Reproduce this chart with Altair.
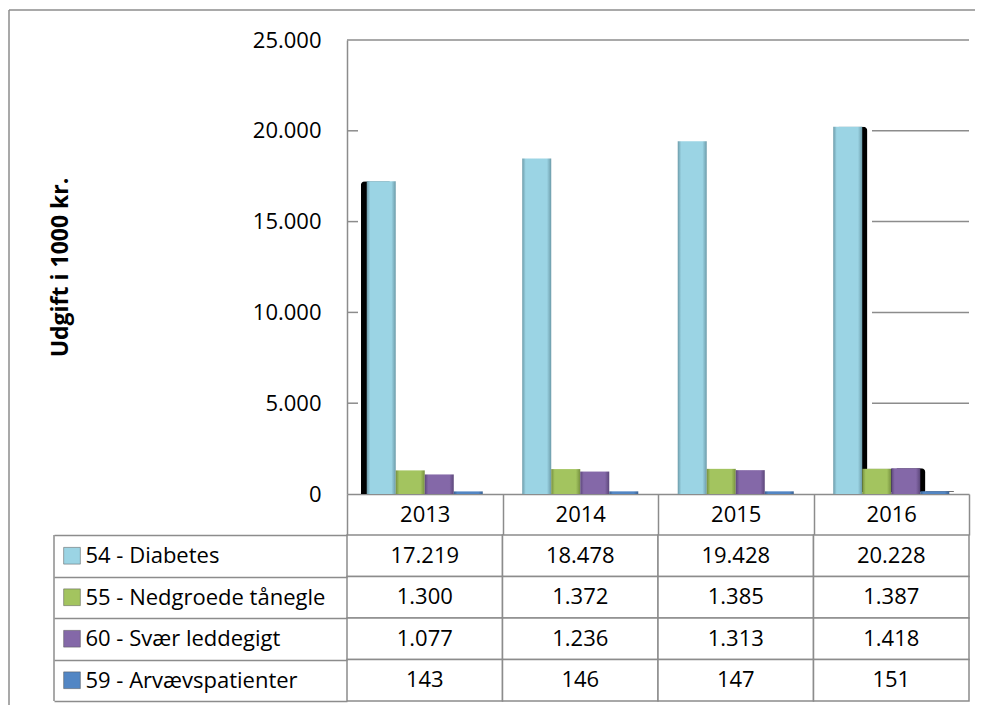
import altair as alt
import pandas as pd

# ---------------- data ----------------
YEARS = ["2013", "2014", "2015", "2016"]
SERIES = [
    "54 - Diabetes",
    "55 - Nedgroede tånegle",
    "60 - Svær leddegigt",
    "59 - Arvævspatienter",
]
DIABETES = [17219, 18478, 19428, 20228]
TANEGLE = [1300, 1372, 1385, 1387]
LEDDEGIGT = [1077, 1236, 1313, 1418]
ARVAEV = [143, 146, 147, 151]
Y_TICKS = [0, 5000, 10000, 15000, 20000, 25000]
Y_TITLE = "Udgift i 1000 kr."

# ---------------- styles ----------------
FILL_MID = ["#9BD4E4", "#A3C45F", "#8468A8", "#5286C4"]
FILL_EDGE = ["#6C9BA9", "#76903F", "#5C477A", "#3A6192"]
GRID = "#8C8C8C"
FONT = "Open Sans"
FS = 22
W, H = 622, 454
HEADER_H = 41
TABLE_H = 166
LEGEND_W = 293
PAD_OUT = 0.68

rows = []
for s, vals in zip(SERIES, [DIABETES, TANEGLE, LEDDEGIGT, ARVAEV]):
    for y, v in zip(YEARS, vals):
        rows.append({"year": y, "series": s, "value": v})
df = pd.DataFrame(rows)
ticks_df = pd.DataFrame({"value": Y_TICKS[1:-1]})
top_df = pd.DataFrame({"value": Y_TICKS[-1:]})
series_df = pd.DataFrame({"series": SERIES})
one = pd.DataFrame({"k": [0]})

DK_FMT = "replace(format(datum.value, ','), ',', '.')"

x_enc = alt.X(
    "year:N", sort=YEARS,
    scale=alt.Scale(paddingInner=0, paddingOuter=0),
    axis=alt.Axis(
        title=None, orient="bottom", tickBand="extent", tickSize=HEADER_H,
        tickColor=GRID, tickWidth=1.5, domainColor=GRID, domainWidth=1.5,
        labelFontSize=FS, labelColor="black", labelFont=FONT,
        labelBaseline="middle", labelPadding=-21, labelAngle=0,
    ),
)


def xoff(align=0.5):
    return alt.XOffset(
        "series:N", sort=SERIES,
        scale=alt.Scale(domain=SERIES, paddingInner=0, paddingOuter=PAD_OUT, align=align),
    )


y_scale = alt.Scale(domain=[0, 25000], nice=False)
y_enc = alt.Y(
    "value:Q", scale=y_scale,
    axis=alt.Axis(
        values=Y_TICKS, labelExpr=DK_FMT, ticks=False, grid=False,
        domainColor=GRID, domainWidth=1.5, labelFontSize=FS,
        labelColor="black", labelFont=FONT, labelPadding=26,
        title=Y_TITLE, titleFontSize=23, titleFontWeight="bold",
        titleColor="black", titleFont=FONT, titleAngle=270,
        titleX=-287, titleY=227, titleAlign="center", titleBaseline="middle",
    ),
)

layers = []
# page border (top and left)
layers.append(alt.Chart(one).mark_rule(color=GRID, strokeWidth=1.5).encode(
    x=alt.value(-338), x2=alt.value(628), y=alt.value(-30)))
layers.append(alt.Chart(one).mark_rule(color=GRID, strokeWidth=1.5).encode(
    x=alt.value(-338), y=alt.value(-30), y2=alt.value(H + HEADER_H)))
# inward ticks, top line, and visible grid segments at the right
layers.append(alt.Chart(ticks_df).mark_rule(color=GRID, strokeWidth=1.5).encode(
    y=y_enc, x=alt.value(0), x2=alt.value(11)))
layers.append(alt.Chart(ticks_df).mark_rule(color=GRID, strokeWidth=1.5).encode(
    y=y_enc, x=alt.value(525), x2=alt.value(W)))
layers.append(alt.Chart(top_df).mark_rule(color=GRID, strokeWidth=1.5).encode(
    y=y_enc, x=alt.value(0), x2=alt.value(W)))

# shadows (shifted band positions)
layers.append(
    alt.Chart(df).transform_filter(
        f"datum.year == '{YEARS[0]}' && datum.series == '{SERIES[0]}'"
    ).mark_bar(color="black", cornerRadiusTopLeft=4).encode(
        x=x_enc, xOffset=xoff(0.35), y=y_enc)
)
layers.append(
    alt.Chart(df).transform_filter(f"datum.year == '{YEARS[-1]}'").mark_bar(
        color="black", cornerRadiusTopRight=4, yOffset=-2).encode(
        x=x_enc, xOffset=xoff(0.63), y=y_enc)
)

for s, mid, edge in zip(SERIES, FILL_MID, FILL_EDGE):
    grad = alt.LinearGradient(
        gradient="linear", x1=0, x2=1, y1=0, y2=0,
        stops=[
            alt.GradientStop(offset=0, color=edge),
            alt.GradientStop(offset=0.12, color=mid),
            alt.GradientStop(offset=0.85, color=mid),
            alt.GradientStop(offset=1, color=edge),
        ],
    )
    layers.append(
        alt.Chart(df).transform_filter(alt.datum.series == s).mark_bar(
            color=grad
        ).encode(x=x_enc, xOffset=xoff(), y=y_enc)
    )

top = alt.layer(*layers).resolve_scale(xOffset="independent").properties(width=W, height=H)

# ---------------- data table ----------------
tx = alt.X("year:N", sort=YEARS, scale=alt.Scale(paddingInner=0, paddingOuter=0), axis=None)
ty_axis = alt.Axis(
    title=None, tickBand="extent", tickSize=LEGEND_W, tickColor=GRID,
    tickWidth=1.5, domain=False, labelAlign="left", labelPadding=-31,
    labelFontSize=FS, labelColor="black", labelFont=FONT,
    labelBaseline="middle", labelLimit=400,
)
ty = alt.Y("series:N", sort=SERIES, scale=alt.Scale(paddingInner=0, paddingOuter=0), axis=ty_axis)

cells = alt.Chart(df).mark_rect(fill="white", stroke=GRID, strokeWidth=1.5).encode(x=tx, y=ty)
texts = alt.Chart(df).transform_calculate(label=DK_FMT).mark_text(
    fontSize=FS, color="black", font=FONT).encode(x=tx, y=ty, text="label:N")
keys = alt.Chart(series_df).mark_square(size=280, opacity=1, filled=True,
                                        stroke="#555555", strokeWidth=0.5).encode(
    x=alt.value(-275), y=ty,
    color=alt.Color("series:N", scale=alt.Scale(domain=SERIES, range=FILL_MID), legend=None),
)
legend_border = alt.Chart(one).mark_rule(color=GRID, strokeWidth=1.5).encode(
    x=alt.value(-LEGEND_W), y=alt.value(0), y2=alt.value(TABLE_H))
page_border = alt.Chart(one).mark_rule(color=GRID, strokeWidth=1.5).encode(
    x=alt.value(-338), y=alt.value(0), y2=alt.value(TABLE_H + 4))

table = alt.layer(cells, texts, keys, legend_border, page_border).properties(
    width=W, height=TABLE_H)

chart = alt.vconcat(top, table, spacing=HEADER_H, bounds="flush").properties(
    padding={"left": 0, "top": 1, "right": 0, "bottom": 0}
).configure(font=FONT).configure_view(stroke=None)

chart.save("out.html", embed_options={"renderer": "svg", "actions": False})
